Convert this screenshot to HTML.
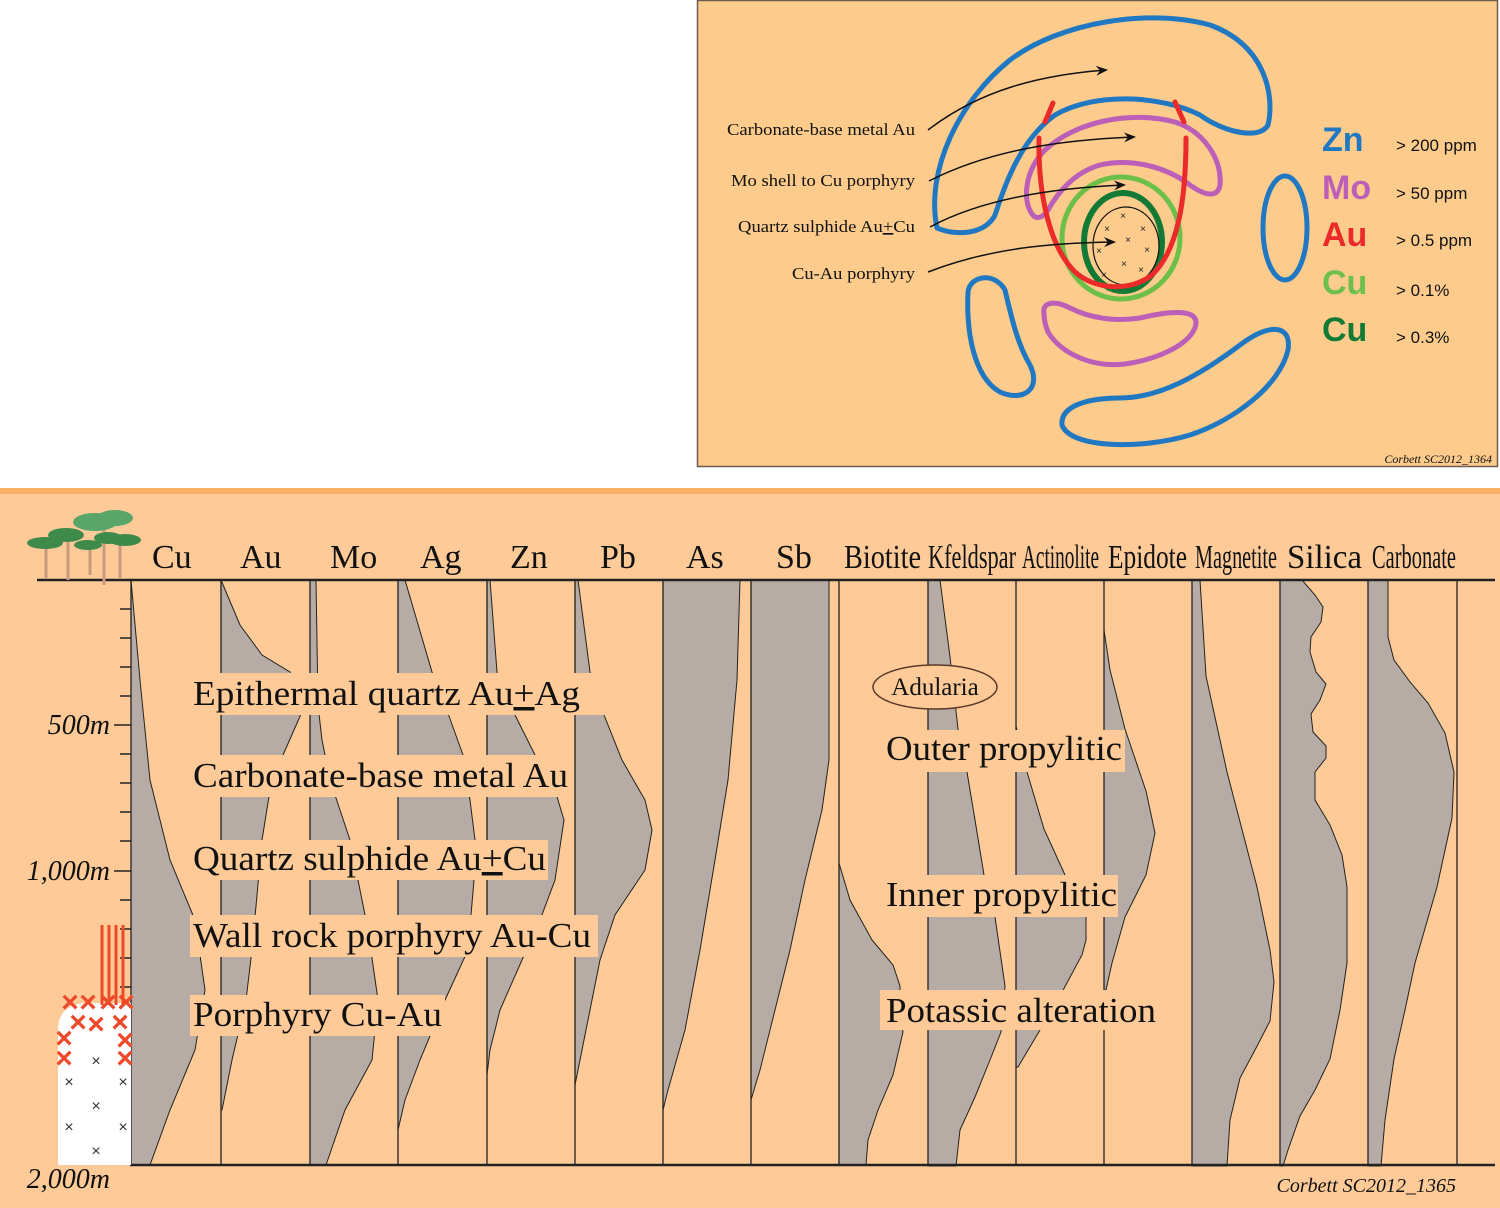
<!DOCTYPE html>
<html><head><meta charset="utf-8"><style>
html,body{margin:0;padding:0;background:#fff;}
svg{display:block}
.s{font-family:"Liberation Serif",serif;fill:#111}
.a{font-family:"Liberation Sans",sans-serif}
</style></head><body>
<svg width="1500" height="1208" viewBox="0 0 1500 1208" xmlns="http://www.w3.org/2000/svg">
<!-- TOP PANEL -->
<rect x="697.5" y="0.5" width="800" height="466" fill="#fdcb8c" stroke="#6b5b50" stroke-width="1.5"/>
<g fill="none" stroke-linejoin="round" stroke-linecap="round">
<path d="M937,228 C925,170 960,100 1010,60 C1060,22 1150,8 1210,25 C1265,45 1275,95 1268,125 C1260,140 1225,133 1200,115 C1160,95 1095,92 1055,115 C1020,140 1005,185 995,215 C985,235 955,236 937,228 Z" stroke="#1f78c1" stroke-width="5"/>
<ellipse cx="1285" cy="228" rx="22" ry="52" stroke="#1f78c1" stroke-width="5"/>
<path d="M968,292 C970,275 995,272 1005,290 C1012,320 1018,345 1030,365 C1042,390 1022,402 1000,392 C975,378 966,335 968,292 Z" stroke="#1f78c1" stroke-width="5"/>
<path d="M1062,425 C1060,405 1090,398 1120,398 C1160,398 1200,375 1240,345 C1270,322 1292,325 1288,350 C1280,385 1235,420 1190,435 C1140,450 1070,448 1062,425 Z" stroke="#1f78c1" stroke-width="5"/>
<path d="M1032,214 C1022,200 1025,170 1045,150 C1075,122 1130,110 1175,122 C1205,132 1222,160 1220,185 C1218,198 1205,196 1190,185 C1165,166 1130,158 1100,165 C1075,172 1058,192 1048,210 C1043,218 1036,220 1032,214 Z" stroke="#bb5fb8" stroke-width="5"/>
<path d="M1044,313 C1042,302 1055,300 1070,308 C1090,318 1115,322 1140,318 C1165,312 1195,308 1196,322 C1196,340 1165,358 1125,364 C1090,368 1060,352 1048,332 C1045,325 1044,318 1044,313 Z" stroke="#bb5fb8" stroke-width="5"/>
<ellipse cx="1121" cy="238" rx="59" ry="61" stroke="#6cc04a" stroke-width="5"/>
<ellipse cx="1123" cy="242" rx="39" ry="49" stroke="#137a35" stroke-width="6"/>
<ellipse cx="1126" cy="246" rx="33" ry="39" stroke="#111" stroke-width="1.2"/>
<path d="M1039,138 C1038,190 1048,245 1075,272 C1095,290 1130,292 1152,275 C1178,250 1186,200 1186,138" stroke="#ec2a2a" stroke-width="5"/>
<path d="M1045,122 L1053,103 M1175,102 L1184,122" stroke="#ec2a2a" stroke-width="5"/>
</g>
<g font-size="10" fill="#222" class="a" text-anchor="middle">
<text x="1123" y="219">×</text><text x="1107" y="232">×</text><text x="1143" y="232">×</text><text x="1128" y="243">×</text><text x="1099" y="254">×</text><text x="1147" y="253">×</text><text x="1124" y="267">×</text><text x="1104" y="278">×</text><text x="1141" y="273">×</text>
</g>
<defs><marker id="ah" markerWidth="12" markerHeight="10" refX="10" refY="5" orient="auto" markerUnits="userSpaceOnUse"><path d="M0,0 L12,5 L0,10 L4,5 Z" fill="#111"/></marker></defs>
<g fill="none" stroke="#111" stroke-width="1.5" marker-end="url(#ah)">
<path d="M928,130 C980,90 1040,75 1106,70"/>
<path d="M929,181 C990,150 1060,140 1134,137"/>
<path d="M930,227 C980,200 1050,188 1124,185"/>
<path d="M928,272 C990,248 1050,243 1114,242"/>
</g>
<g class="s" font-size="17">
<text x="727" y="135" textLength="188" lengthAdjust="spacingAndGlyphs">Carbonate-base metal Au</text>
<text x="731" y="186" textLength="184" lengthAdjust="spacingAndGlyphs">Mo shell to Cu porphyry</text>
<text x="738" y="232" textLength="177" lengthAdjust="spacingAndGlyphs">Quartz sulphide Au<tspan text-decoration="underline">+</tspan>Cu</text>
<text x="792" y="279" textLength="123" lengthAdjust="spacingAndGlyphs">Cu-Au porphyry</text>
</g>
<g class="a" font-weight="bold" font-size="34">
<text x="1322" y="151" fill="#1f78c1">Zn</text>
<text x="1322" y="199" fill="#bb5fb8">Mo</text>
<text x="1322" y="246" fill="#ec2a2a">Au</text>
<text x="1322" y="294" fill="#6cc04a">Cu</text>
<text x="1322" y="341" fill="#137a35">Cu</text>
</g>
<g class="a" font-size="17" fill="#111">
<text x="1396" y="151">&gt; 200 ppm</text>
<text x="1396" y="199">&gt; 50 ppm</text>
<text x="1396" y="246">&gt; 0.5 ppm</text>
<text x="1396" y="296">&gt; 0.1%</text>
<text x="1396" y="343">&gt; 0.3%</text>
</g>
<text x="1492" y="463" class="s" font-size="12" font-style="italic" text-anchor="end">Corbett SC2012_1364</text>

<!-- BOTTOM PANEL -->
<rect x="0" y="488" width="1500" height="720" fill="#fdca98"/>
<rect x="0" y="488" width="1500" height="6" fill="#f9b062"/>
<g fill="#b6aca5" stroke="#222" stroke-width="1">
<polygon points="131,580 140,680 150,780 170,860 195,920 205,990 195,1050 170,1110 150,1165 131,1165"/>
<polygon points="221,580 240,625 262,655 290,672 305,705 283,755 270,790 262,840 252,950 246,1000 232,1060 222,1110 221,1110"/>
<polygon points="310,580 316,580 318,705 322,740 330,780 350,840 368,930 378,1000 372,1060 345,1110 326,1165 310,1165"/>
<polygon points="398,580 405,580 432,672 445,705 463,755 470,800 475,840 474,880 468,950 445,1000 420,1060 405,1100 398,1130"/>
<polygon points="487,580 490,580 497,672 510,705 535,755 555,790 564,820 555,880 540,920 522,960 500,1010 490,1050 487,1075"/>
<polygon points="575,580 578,580 590,672 600,705 622,760 645,800 652,830 645,870 615,915 600,960 590,1010 580,1060 575,1085"/>
<polygon points="663,580 740,580 737,680 728,780 715,860 700,950 685,1030 668,1090 663,1110"/>
<polygon points="751,580 829,580 829,760 822,810 805,880 790,950 775,1010 760,1070 751,1100"/>
<polygon points="839,863 850,900 872,940 893,965 900,986 900,1010 903,1032 893,1075 878,1110 868,1140 866,1165 839,1165"/>
<polygon points="928,580 940,580 950,657 958,729 967,772 975,820 984,875 995,917 1005,986 1001,1032 990,1060 975,1097 960,1130 956,1166 928,1166"/>
<polygon points="1016,726 1027,772 1044,829 1065,875 1086,917 1086,940 1082,955 1061,994 1040,1030 1018,1067 1016,1067"/>
<polygon points="1104,630 1110,670 1125,729 1146,791 1155,833 1146,875 1125,917 1112,963 1106,990 1104,990"/>
<polygon points="1192,580 1200,580 1206,676 1227,772 1257,887 1270,950 1274,982 1270,1021 1255,1050 1240,1078 1230,1120 1227,1166 1192,1166"/>
<polygon points="1280,580 1302,580 1315,595 1323,607 1321,622 1311,637 1310,652 1316,672 1326,684 1320,700 1311,714 1313,732 1326,746 1326,758 1315,772 1315,800 1330,825 1342,855 1347,887 1347,963 1340,1010 1330,1059 1315,1090 1300,1116 1288,1150 1283,1166 1280,1166"/>
<polygon points="1368,580 1388,580 1388,637 1394,660 1410,682 1428,703 1445,733 1454,772 1452,818 1437,887 1415,963 1405,1010 1394,1059 1385,1120 1381,1166 1368,1166"/>
</g>
<g stroke="#222" stroke-width="1.3">
<line x1="131" y1="580" x2="131" y2="1165"/><line x1="221" y1="580" x2="221" y2="1165"/><line x1="310" y1="580" x2="310" y2="1165"/><line x1="398" y1="580" x2="398" y2="1165"/><line x1="487" y1="580" x2="487" y2="1165"/><line x1="575" y1="580" x2="575" y2="1165"/><line x1="663" y1="580" x2="663" y2="1165"/><line x1="751" y1="580" x2="751" y2="1165"/><line x1="839" y1="580" x2="839" y2="1165"/><line x1="928" y1="580" x2="928" y2="1165"/><line x1="1016" y1="580" x2="1016" y2="1165"/><line x1="1104" y1="580" x2="1104" y2="1165"/><line x1="1192" y1="580" x2="1192" y2="1165"/><line x1="1280" y1="580" x2="1280" y2="1165"/><line x1="1368" y1="580" x2="1368" y2="1165"/><line x1="1457" y1="580" x2="1457" y2="1165"/>
</g>
<line x1="37" y1="580" x2="1495" y2="580" stroke="#222" stroke-width="2.5"/>
<line x1="130" y1="1165" x2="1495" y2="1165" stroke="#222" stroke-width="2.5"/>
<g stroke="#222" stroke-width="1.5">
<line x1="120" y1="609" x2="131" y2="609"/><line x1="120" y1="638" x2="131" y2="638"/><line x1="120" y1="667" x2="131" y2="667"/><line x1="120" y1="696" x2="131" y2="696"/><line x1="114" y1="725" x2="131" y2="725"/><line x1="120" y1="754" x2="131" y2="754"/><line x1="120" y1="783" x2="131" y2="783"/><line x1="120" y1="812" x2="131" y2="812"/><line x1="120" y1="841" x2="131" y2="841"/><line x1="114" y1="871" x2="131" y2="871"/><line x1="120" y1="900" x2="131" y2="900"/><line x1="120" y1="929" x2="131" y2="929"/><line x1="120" y1="958" x2="131" y2="958"/><line x1="120" y1="987" x2="131" y2="987"/>
</g>
<g class="s" font-size="28" font-style="italic" text-anchor="end">
<text x="110" y="734">500m</text><text x="110" y="880">1,000m</text><text x="110" y="1188">2,000m</text>
</g>
<path d="M58,1165 L58,1030 Q58,1005 85,1003 L131,1003 L131,1165 Z" fill="#fff"/>
<g class="a" font-size="16" fill="#333" text-anchor="middle">
<text x="69" y="1087">×</text><text x="96" y="1066">×</text><text x="123" y="1087">×</text><text x="96" y="1111">×</text><text x="69" y="1132">×</text><text x="123" y="1132">×</text><text x="96" y="1156">×</text>
</g>
<g stroke="#ee4a2a" stroke-width="3">
<line x1="102" y1="925" x2="102" y2="1005"/><line x1="109" y1="925" x2="109" y2="1005"/><line x1="116" y1="925" x2="116" y2="1005"/><line x1="123" y1="925" x2="123" y2="1005"/>
</g>
<g class="a" font-size="30" fill="#ee4a2a" text-anchor="middle" font-weight="bold">
<text x="70" y="1012">×</text><text x="88" y="1012">×</text><text x="108" y="1012">×</text><text x="126" y="1012">×</text><text x="78" y="1032">×</text><text x="96" y="1034">×</text><text x="120" y="1032">×</text><text x="64" y="1048">×</text><text x="125" y="1050">×</text><text x="64" y="1068">×</text><text x="125" y="1068">×</text>
</g>
<g stroke="#c89a80" stroke-width="3">
<line x1="46" y1="545" x2="46" y2="578"/><line x1="68" y1="540" x2="68" y2="580"/><line x1="90" y1="545" x2="90" y2="575"/><line x1="104" y1="530" x2="104" y2="585"/><line x1="120" y1="540" x2="120" y2="578"/>
</g>
<g fill="#3e8a4a">
<ellipse cx="45" cy="543" rx="18" ry="6"/><ellipse cx="66" cy="535" rx="18" ry="7"/><ellipse cx="88" cy="545" rx="14" ry="5"/><ellipse cx="95" cy="522" rx="22" ry="9" fill="#5aa56a"/><ellipse cx="115" cy="518" rx="18" ry="8" fill="#5aa56a"/><ellipse cx="125" cy="540" rx="16" ry="6"/><ellipse cx="108" cy="538" rx="14" ry="6"/>
</g>
<g class="s" font-size="34">
<text x="152" y="568">Cu</text><text x="240" y="568">Au</text><text x="330" y="568">Mo</text><text x="420" y="568">Ag</text><text x="510" y="568">Zn</text><text x="600" y="568">Pb</text><text x="686" y="568">As</text><text x="776" y="568">Sb</text>
<text x="844" y="568" textLength="77" lengthAdjust="spacingAndGlyphs">Biotite</text>
<text x="928" y="568" textLength="88" lengthAdjust="spacingAndGlyphs">Kfeldspar</text>
<text x="1022" y="568" textLength="77" lengthAdjust="spacingAndGlyphs">Actinolite</text>
<text x="1108" y="568" textLength="79" lengthAdjust="spacingAndGlyphs">Epidote</text>
<text x="1195" y="568" textLength="82" lengthAdjust="spacingAndGlyphs">Magnetite</text>
<text x="1287" y="568" textLength="75" lengthAdjust="spacingAndGlyphs">Silica</text>
<text x="1372" y="568" textLength="84" lengthAdjust="spacingAndGlyphs">Carbonate</text>
</g>
<g fill="#fdca98">
<rect x="190" y="673" width="415" height="42"/><rect x="190" y="755" width="380" height="42"/><rect x="190" y="840" width="358" height="40"/><rect x="190" y="915" width="408" height="42"/><rect x="190" y="995" width="255" height="41"/>
<rect x="880" y="730" width="245" height="42"/><rect x="880" y="875" width="238" height="42"/><rect x="880" y="990" width="278" height="40"/>
</g>
<g class="s" font-size="35" lengthAdjust="spacingAndGlyphs">
<text x="193" y="705" textLength="387" lengthAdjust="spacingAndGlyphs">Epithermal quartz Au<tspan text-decoration="underline">+</tspan>Ag</text>
<text x="193" y="787" textLength="375" lengthAdjust="spacingAndGlyphs">Carbonate-base metal Au</text>
<text x="193" y="870" textLength="353" lengthAdjust="spacingAndGlyphs">Quartz sulphide Au<tspan text-decoration="underline">+</tspan>Cu</text>
<text x="193" y="947" textLength="398" lengthAdjust="spacingAndGlyphs">Wall rock porphyry Au-Cu</text>
<text x="193" y="1026" textLength="249" lengthAdjust="spacingAndGlyphs">Porphyry Cu-Au</text>
<text x="886" y="760" textLength="236" lengthAdjust="spacingAndGlyphs">Outer propylitic</text>
<text x="886" y="906" textLength="231" lengthAdjust="spacingAndGlyphs">Inner propylitic</text>
<text x="886" y="1022" textLength="270" lengthAdjust="spacingAndGlyphs">Potassic alteration</text>
</g>
<ellipse cx="935" cy="687" rx="62" ry="22" fill="#fdca98" stroke="#5a3a2a" stroke-width="1.5"/>
<text x="935" y="695" class="s" font-size="25" text-anchor="middle">Adularia</text>
<text x="1456" y="1192" class="s" font-size="20" font-style="italic" text-anchor="end">Corbett SC2012_1365</text>
</svg>
</body></html>
